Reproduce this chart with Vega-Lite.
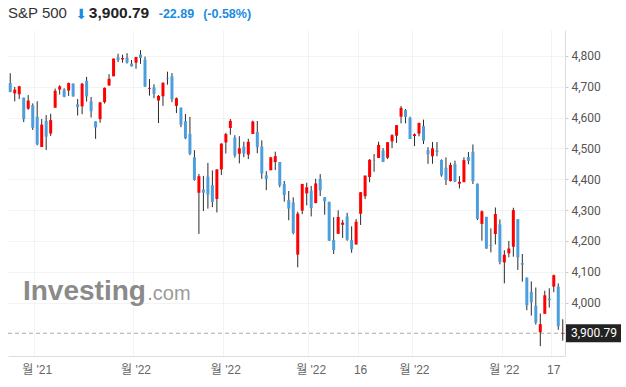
{
  "$schema": "https://vega.github.io/schema/vega-lite/v6.json",
  "width": 557,
  "height": 326,
  "autosize": {"type": "none"},
  "padding": {"left": 8, "top": 30, "right": 61, "bottom": 31},
  "background": "white",
  "config": {"view": {"stroke": null}, "font": "Liberation Sans"},
  "datasets": {
    "quote": [{"name": "S&P 500", "last": 3900.79, "change": "-22.89", "pct": "(-0.58%)", "arrow": "⬇", "brand": "Investing", "tld": ".com"}],
    "candles": [
      {"date": "2021-11-22", "open": 4712.00, "high": 4743.83, "low": 4682.17, "close": 4682.94},
      {"date": "2021-11-23", "open": 4678.48, "high": 4699.39, "low": 4652.66, "close": 4690.70},
      {"date": "2021-11-24", "open": 4675.78, "high": 4702.87, "low": 4659.89, "close": 4701.46},
      {"date": "2021-11-26", "open": 4664.63, "high": 4664.63, "low": 4585.43, "close": 4594.62},
      {"date": "2021-11-29", "open": 4628.75, "high": 4672.95, "low": 4625.26, "close": 4655.27},
      {"date": "2021-11-30", "open": 4640.25, "high": 4646.02, "low": 4560.00, "close": 4567.00},
      {"date": "2021-12-01", "open": 4602.82, "high": 4652.94, "low": 4510.27, "close": 4513.04},
      {"date": "2021-12-02", "open": 4504.73, "high": 4595.46, "low": 4504.73, "close": 4577.10},
      {"date": "2021-12-03", "open": 4589.49, "high": 4608.03, "low": 4495.12, "close": 4538.43},
      {"date": "2021-12-06", "open": 4548.37, "high": 4612.60, "low": 4540.51, "close": 4591.67},
      {"date": "2021-12-07", "open": 4631.97, "high": 4694.04, "low": 4631.97, "close": 4686.75},
      {"date": "2021-12-08", "open": 4690.86, "high": 4705.06, "low": 4674.52, "close": 4701.21},
      {"date": "2021-12-09", "open": 4691.00, "high": 4695.26, "low": 4665.98, "close": 4667.45},
      {"date": "2021-12-10", "open": 4687.64, "high": 4713.57, "low": 4670.24, "close": 4712.02},
      {"date": "2021-12-13", "open": 4710.30, "high": 4710.30, "low": 4667.60, "close": 4668.97},
      {"date": "2021-12-14", "open": 4642.99, "high": 4660.47, "low": 4606.52, "close": 4634.09},
      {"date": "2021-12-15", "open": 4636.46, "high": 4712.60, "low": 4611.22, "close": 4709.85},
      {"date": "2021-12-16", "open": 4719.13, "high": 4731.99, "low": 4651.89, "close": 4668.67},
      {"date": "2021-12-17", "open": 4652.50, "high": 4666.70, "low": 4600.22, "close": 4620.64},
      {"date": "2021-12-20", "open": 4587.90, "high": 4587.90, "low": 4531.10, "close": 4568.02},
      {"date": "2021-12-21", "open": 4594.96, "high": 4651.14, "low": 4583.16, "close": 4649.23},
      {"date": "2021-12-22", "open": 4650.36, "high": 4697.67, "low": 4645.53, "close": 4696.56},
      {"date": "2021-12-23", "open": 4703.96, "high": 4740.74, "low": 4703.96, "close": 4725.79},
      {"date": "2021-12-27", "open": 4733.99, "high": 4791.49, "low": 4733.99, "close": 4791.19},
      {"date": "2021-12-28", "open": 4795.49, "high": 4807.02, "low": 4780.04, "close": 4786.35},
      {"date": "2021-12-29", "open": 4788.64, "high": 4804.06, "low": 4778.08, "close": 4793.06},
      {"date": "2021-12-30", "open": 4794.23, "high": 4808.93, "low": 4775.33, "close": 4778.73},
      {"date": "2021-12-31", "open": 4775.21, "high": 4786.83, "low": 4765.75, "close": 4766.18},
      {"date": "2022-01-03", "open": 4778.14, "high": 4796.64, "low": 4758.17, "close": 4796.56},
      {"date": "2022-01-04", "open": 4804.51, "high": 4818.62, "low": 4774.27, "close": 4793.54},
      {"date": "2022-01-05", "open": 4787.99, "high": 4797.70, "low": 4699.44, "close": 4700.58},
      {"date": "2022-01-06", "open": 4693.39, "high": 4725.01, "low": 4671.26, "close": 4696.05},
      {"date": "2022-01-07", "open": 4697.66, "high": 4707.95, "low": 4662.74, "close": 4677.03},
      {"date": "2022-01-10", "open": 4655.34, "high": 4673.02, "low": 4582.24, "close": 4670.29},
      {"date": "2022-01-11", "open": 4669.14, "high": 4714.13, "low": 4638.27, "close": 4713.07},
      {"date": "2022-01-12", "open": 4728.59, "high": 4748.83, "low": 4706.71, "close": 4726.35},
      {"date": "2022-01-13", "open": 4733.56, "high": 4744.13, "low": 4650.29, "close": 4659.03},
      {"date": "2022-01-14", "open": 4637.99, "high": 4665.13, "low": 4614.75, "close": 4662.85},
      {"date": "2022-01-18", "open": 4632.24, "high": 4632.24, "low": 4568.70, "close": 4577.11},
      {"date": "2022-01-19", "open": 4588.03, "high": 4611.55, "low": 4530.20, "close": 4532.76},
      {"date": "2022-01-20", "open": 4547.35, "high": 4602.11, "low": 4477.95, "close": 4482.73},
      {"date": "2022-01-21", "open": 4471.38, "high": 4494.52, "low": 4395.34, "close": 4397.94},
      {"date": "2022-01-24", "open": 4356.32, "high": 4417.35, "low": 4222.62, "close": 4410.13},
      {"date": "2022-01-25", "open": 4366.64, "high": 4411.01, "low": 4297.00, "close": 4356.45},
      {"date": "2022-01-26", "open": 4408.43, "high": 4453.23, "low": 4304.80, "close": 4349.93},
      {"date": "2022-01-27", "open": 4380.58, "high": 4428.74, "low": 4309.50, "close": 4326.51},
      {"date": "2022-01-28", "open": 4336.19, "high": 4432.72, "low": 4292.46, "close": 4431.85},
      {"date": "2022-01-31", "open": 4431.79, "high": 4516.89, "low": 4414.02, "close": 4515.55},
      {"date": "2022-02-01", "open": 4519.57, "high": 4550.49, "low": 4483.53, "close": 4546.54},
      {"date": "2022-02-02", "open": 4566.39, "high": 4595.31, "low": 4544.32, "close": 4589.38},
      {"date": "2022-02-03", "open": 4535.41, "high": 4542.88, "low": 4470.39, "close": 4477.44},
      {"date": "2022-02-04", "open": 4482.79, "high": 4539.66, "low": 4451.50, "close": 4500.53},
      {"date": "2022-02-07", "open": 4505.75, "high": 4521.86, "low": 4471.47, "close": 4483.87},
      {"date": "2022-02-08", "open": 4480.02, "high": 4531.32, "low": 4465.40, "close": 4521.54},
      {"date": "2022-02-09", "open": 4547.00, "high": 4590.03, "low": 4547.00, "close": 4587.18},
      {"date": "2022-02-10", "open": 4553.24, "high": 4588.92, "low": 4484.31, "close": 4504.08},
      {"date": "2022-02-11", "open": 4506.27, "high": 4526.33, "low": 4401.41, "close": 4418.64},
      {"date": "2022-02-14", "open": 4412.61, "high": 4426.22, "low": 4364.84, "close": 4401.67},
      {"date": "2022-02-15", "open": 4429.28, "high": 4472.77, "low": 4429.28, "close": 4471.07},
      {"date": "2022-02-16", "open": 4455.75, "high": 4489.55, "low": 4429.68, "close": 4475.01},
      {"date": "2022-02-17", "open": 4456.06, "high": 4456.06, "low": 4373.81, "close": 4380.26},
      {"date": "2022-02-18", "open": 4384.57, "high": 4394.60, "low": 4327.22, "close": 4348.87},
      {"date": "2022-02-22", "open": 4332.74, "high": 4362.12, "low": 4267.11, "close": 4304.76},
      {"date": "2022-02-23", "open": 4324.93, "high": 4341.51, "low": 4221.51, "close": 4225.50},
      {"date": "2022-02-24", "open": 4155.77, "high": 4294.73, "low": 4114.65, "close": 4288.70},
      {"date": "2022-02-25", "open": 4298.38, "high": 4385.34, "low": 4286.83, "close": 4384.65},
      {"date": "2022-02-28", "open": 4354.17, "high": 4388.84, "low": 4315.12, "close": 4373.94},
      {"date": "2022-03-01", "open": 4363.14, "high": 4378.45, "low": 4279.54, "close": 4306.26},
      {"date": "2022-03-02", "open": 4322.56, "high": 4401.48, "low": 4322.56, "close": 4386.54},
      {"date": "2022-03-03", "open": 4401.31, "high": 4416.78, "low": 4345.56, "close": 4363.49},
      {"date": "2022-03-04", "open": 4342.12, "high": 4342.12, "low": 4284.98, "close": 4328.87},
      {"date": "2022-03-07", "open": 4327.01, "high": 4327.01, "low": 4199.85, "close": 4201.09},
      {"date": "2022-03-08", "open": 4202.66, "high": 4276.94, "low": 4157.87, "close": 4170.70},
      {"date": "2022-03-09", "open": 4223.10, "high": 4299.40, "low": 4223.10, "close": 4277.88},
      {"date": "2022-03-10", "open": 4252.55, "high": 4268.28, "low": 4209.80, "close": 4259.52},
      {"date": "2022-03-11", "open": 4279.50, "high": 4291.20, "low": 4200.49, "close": 4204.31},
      {"date": "2022-03-14", "open": 4202.75, "high": 4247.57, "low": 4161.72, "close": 4173.11},
      {"date": "2022-03-15", "open": 4188.82, "high": 4271.05, "low": 4187.90, "close": 4262.45},
      {"date": "2022-03-16", "open": 4288.14, "high": 4358.90, "low": 4251.99, "close": 4357.86},
      {"date": "2022-03-17", "open": 4345.11, "high": 4412.67, "low": 4335.65, "close": 4411.67},
      {"date": "2022-03-18", "open": 4407.34, "high": 4465.40, "low": 4390.57, "close": 4463.12},
      {"date": "2022-03-21", "open": 4462.40, "high": 4481.75, "low": 4424.30, "close": 4461.18},
      {"date": "2022-03-22", "open": 4469.10, "high": 4522.00, "low": 4469.10, "close": 4511.61},
      {"date": "2022-03-23", "open": 4493.10, "high": 4501.07, "low": 4455.81, "close": 4456.24},
      {"date": "2022-03-24", "open": 4469.98, "high": 4520.58, "low": 4465.40, "close": 4520.16},
      {"date": "2022-03-25", "open": 4522.91, "high": 4546.03, "low": 4501.07, "close": 4543.06},
      {"date": "2022-03-28", "open": 4541.09, "high": 4575.65, "low": 4517.69, "close": 4575.52},
      {"date": "2022-03-29", "open": 4602.86, "high": 4637.30, "low": 4581.32, "close": 4631.60},
      {"date": "2022-03-30", "open": 4624.20, "high": 4627.77, "low": 4581.32, "close": 4602.45},
      {"date": "2022-03-31", "open": 4599.02, "high": 4603.07, "low": 4530.41, "close": 4530.41},
      {"date": "2022-04-01", "open": 4540.32, "high": 4548.70, "low": 4507.57, "close": 4545.86},
      {"date": "2022-04-04", "open": 4547.97, "high": 4583.50, "low": 4539.21, "close": 4582.64},
      {"date": "2022-04-05", "open": 4572.45, "high": 4593.45, "low": 4514.17, "close": 4525.12},
      {"date": "2022-04-06", "open": 4494.17, "high": 4503.94, "low": 4450.04, "close": 4481.15},
      {"date": "2022-04-07", "open": 4474.65, "high": 4521.16, "low": 4450.30, "close": 4500.21},
      {"date": "2022-04-08", "open": 4494.15, "high": 4520.41, "low": 4474.60, "close": 4488.28},
      {"date": "2022-04-11", "open": 4462.64, "high": 4464.35, "low": 4408.38, "close": 4412.53},
      {"date": "2022-04-12", "open": 4437.59, "high": 4471.00, "low": 4381.34, "close": 4397.45},
      {"date": "2022-04-13", "open": 4394.30, "high": 4453.92, "low": 4392.70, "close": 4446.59},
      {"date": "2022-04-14", "open": 4449.12, "high": 4460.46, "low": 4390.77, "close": 4392.59},
      {"date": "2022-04-18", "open": 4385.63, "high": 4410.31, "low": 4370.30, "close": 4391.69},
      {"date": "2022-04-19", "open": 4390.63, "high": 4471.03, "low": 4390.63, "close": 4462.21},
      {"date": "2022-04-20", "open": 4472.26, "high": 4488.29, "low": 4448.76, "close": 4459.45},
      {"date": "2022-04-21", "open": 4489.17, "high": 4512.94, "low": 4384.47, "close": 4393.66},
      {"date": "2022-04-22", "open": 4385.83, "high": 4385.83, "low": 4267.62, "close": 4271.78},
      {"date": "2022-04-25", "open": 4255.34, "high": 4299.02, "low": 4200.82, "close": 4296.12},
      {"date": "2022-04-26", "open": 4278.14, "high": 4278.14, "low": 4175.04, "close": 4175.20},
      {"date": "2022-04-27", "open": 4186.52, "high": 4240.71, "low": 4162.90, "close": 4183.96},
      {"date": "2022-04-28", "open": 4222.58, "high": 4308.45, "low": 4188.63, "close": 4287.50},
      {"date": "2022-04-29", "open": 4253.75, "high": 4269.68, "low": 4124.28, "close": 4131.93},
      {"date": "2022-05-02", "open": 4130.61, "high": 4169.81, "low": 4062.51, "close": 4155.38},
      {"date": "2022-05-03", "open": 4159.78, "high": 4200.10, "low": 4147.08, "close": 4175.48},
      {"date": "2022-05-04", "open": 4181.18, "high": 4307.66, "low": 4148.91, "close": 4300.17},
      {"date": "2022-05-05", "open": 4270.43, "high": 4270.43, "low": 4106.01, "close": 4146.87},
      {"date": "2022-05-06", "open": 4128.17, "high": 4157.69, "low": 4067.91, "close": 4123.34},
      {"date": "2022-05-09", "open": 4081.27, "high": 4081.27, "low": 3975.48, "close": 3991.24},
      {"date": "2022-05-10", "open": 4035.18, "high": 4068.82, "low": 3958.17, "close": 4001.05},
      {"date": "2022-05-11", "open": 3990.08, "high": 4049.09, "low": 3928.82, "close": 3935.18},
      {"date": "2022-05-12", "open": 3903.95, "high": 3964.80, "low": 3858.87, "close": 3930.08},
      {"date": "2022-05-13", "open": 3963.90, "high": 4038.88, "low": 3963.90, "close": 4023.89},
      {"date": "2022-05-16", "open": 4013.02, "high": 4046.46, "low": 3983.99, "close": 4008.01},
      {"date": "2022-05-17", "open": 4052.00, "high": 4090.72, "low": 4033.93, "close": 4088.85},
      {"date": "2022-05-18", "open": 4051.98, "high": 4062.51, "low": 3911.91, "close": 3923.68},
      {"date": "2022-05-19", "open": 3899.00, "high": 3945.96, "low": 3876.73, "close": 3900.79}
    ]
  },
  "layer": [
    {
      "data": {"name": "candles"},
      "mark": {"type": "rule", "color": "#2b2b2b", "strokeWidth": 1, "opacity": 0},
      "encoding": {
        "x": {
          "field": "date", "type": "ordinal",
          "scale": {"type": "band", "paddingInner": 0, "paddingOuter": 0},
          "axis": {
            "values": ["2021-12-01", "2022-01-03", "2022-02-01", "2022-03-01", "2022-03-16", "2022-04-01", "2022-05-02", "2022-05-17"],
            "labelExpr": "datum.value == '2022-03-16' ? '16' : datum.value == '2022-05-17' ? '17' : datum.value == '2021-12-01' ? \"월 '21\" : \"월 '22\"",
            "bandPosition": 0,
            "title": null,
            "ticks": false,
            "grid": true,
            "gridColor": "#f3f3f3",
            "domainColor": "#dddddd",
            "labelColor": "#666666",
            "labelFontSize": 12,
            "labelFont": "Liberation Sans, Noto Sans CJK KR",
            "labelPadding": 8,
            "labelAngle": 0,
            "labelOverlap": false
          }
        },
        "y": {
          "field": "low", "type": "quantitative",
          "scale": {"domain": [3827, 4884], "zero": false, "nice": false},
          "axis": {
            "orient": "right",
            "values": [4000, 4100, 4200, 4300, 4400, 4500, 4600, 4700, 4800],
            "format": ",.0f",
            "title": null,
            "grid": true,
            "gridColor": "#f3f3f3",
            "domainColor": "#dcdcdc",
            "tickColor": "#cccccc",
            "tickSize": 3,
            "labelColor": "#555555",
            "labelFontSize": 12,
            "labelFont": "Roboto",
            "labelPadding": 3
          }
        },
        "y2": {"field": "high"}
      }
    },
    {
      "data": {"name": "quote"},
      "mark": {"type": "text", "align": "left", "baseline": "alphabetic", "fontSize": 28, "fontWeight": "bold", "color": "#8a8a8a", "dx": 1.5, "font": "Liberation Sans"},
      "encoding": {
        "x": {"datum": "2021-11-26", "type": "ordinal", "bandPosition": 0, "title": null},
        "y": {"datum": 4009, "type": "quantitative", "title": null},
        "text": {"field": "brand"}
      }
    },
    {
      "data": {"name": "quote"},
      "mark": {"type": "text", "align": "left", "baseline": "alphabetic", "fontSize": 20, "color": "#9a9a9a", "font": "Liberation Sans"},
      "encoding": {
        "x": {"datum": "2022-01-06", "type": "ordinal", "bandPosition": 0, "title": null},
        "y": {"datum": 4009, "type": "quantitative", "title": null},
        "text": {"field": "tld"}
      }
    },
    {
      "data": {"name": "quote"},
      "mark": {"type": "rule", "color": "#aaaaaa", "strokeDash": [4, 3], "strokeWidth": 1},
      "encoding": {
        "y": {"field": "last", "type": "quantitative", "title": null}
      }
    },
    {
      "data": {"name": "candles"},
      "mark": {"type": "rule", "color": "#2b2b2b", "strokeWidth": 1},
      "encoding": {
        "x": {"field": "date", "type": "ordinal", "title": null},
        "y": {"field": "low", "type": "quantitative", "title": null},
        "y2": {"field": "high"}
      }
    },
    {
      "data": {"name": "candles"},
      "mark": {"type": "bar", "width": 3, "minBandSize": 2},
      "encoding": {
        "x": {"field": "date", "type": "ordinal", "title": null},
        "y": {"field": "open", "type": "quantitative", "title": null},
        "y2": {"field": "close"},
        "color": {"condition": {"test": "datum.close >= datum.open", "value": "#ff0000"}, "value": "#4c9fdc"}
      }
    },
    {
      "data": {"name": "quote"},
      "mark": {"type": "rect", "color": "#222222", "xOffset": 1, "x2Offset": 56, "yOffset": -9, "y2Offset": 9},
      "encoding": {
        "x": {"value": "width"},
        "x2": {"value": "width"},
        "y": {"field": "last", "type": "quantitative", "title": null},
        "y2": {"field": "last"}
      }
    },
    {
      "data": {"name": "quote"},
      "mark": {"type": "text", "align": "left", "baseline": "middle", "dx": 6, "color": "white", "fontSize": 12, "font": "Roboto"},
      "encoding": {
        "x": {"value": "width"},
        "y": {"field": "last", "type": "quantitative", "title": null},
        "text": {"field": "last", "format": ",.2f"}
      }
    },
    {
      "data": {"name": "quote"},
      "mark": {"type": "text", "align": "left", "baseline": "alphabetic", "fontSize": 15, "color": "#333333", "font": "Liberation Sans"},
      "encoding": {
        "x": {"datum": "2021-11-22", "type": "ordinal", "bandPosition": 0, "title": null},
        "y": {"datum": 4923, "type": "quantitative", "title": null},
        "text": {"field": "name"}
      }
    },
    {
      "data": {"name": "quote"},
      "mark": {"type": "text", "align": "left", "baseline": "alphabetic", "fontSize": 14, "color": "#1a8be3", "font": "DejaVu Sans", "dy": 1},
      "encoding": {
        "x": {"datum": "2021-12-14", "type": "ordinal", "bandPosition": 0, "title": null},
        "y": {"datum": 4923, "type": "quantitative", "title": null},
        "text": {"field": "arrow"}
      }
    },
    {
      "data": {"name": "quote"},
      "mark": {"type": "text", "align": "left", "baseline": "alphabetic", "fontSize": 15.5, "fontWeight": "bold", "color": "#222222", "font": "Liberation Sans"},
      "encoding": {
        "x": {"datum": "2021-12-17", "type": "ordinal", "bandPosition": 0, "title": null},
        "y": {"datum": 4923, "type": "quantitative", "title": null},
        "text": {"field": "last", "format": ",.2f"}
      }
    },
    {
      "data": {"name": "quote"},
      "mark": {"type": "text", "align": "left", "baseline": "alphabetic", "fontSize": 12.5, "fontWeight": "bold", "color": "#1a8be3", "dx": -2, "font": "Liberation Sans"},
      "encoding": {
        "x": {"datum": "2022-01-11", "type": "ordinal", "bandPosition": 0, "title": null},
        "y": {"datum": 4923, "type": "quantitative", "title": null},
        "text": {"field": "change"}
      }
    },
    {
      "data": {"name": "quote"},
      "mark": {"type": "text", "align": "left", "baseline": "alphabetic", "fontSize": 12.5, "fontWeight": "bold", "color": "#1a8be3", "dx": 2, "font": "Liberation Sans"},
      "encoding": {
        "x": {"datum": "2022-01-25", "type": "ordinal", "bandPosition": 0, "title": null},
        "y": {"datum": 4923, "type": "quantitative", "title": null},
        "text": {"field": "pct"}
      }
    }
  ]
}
